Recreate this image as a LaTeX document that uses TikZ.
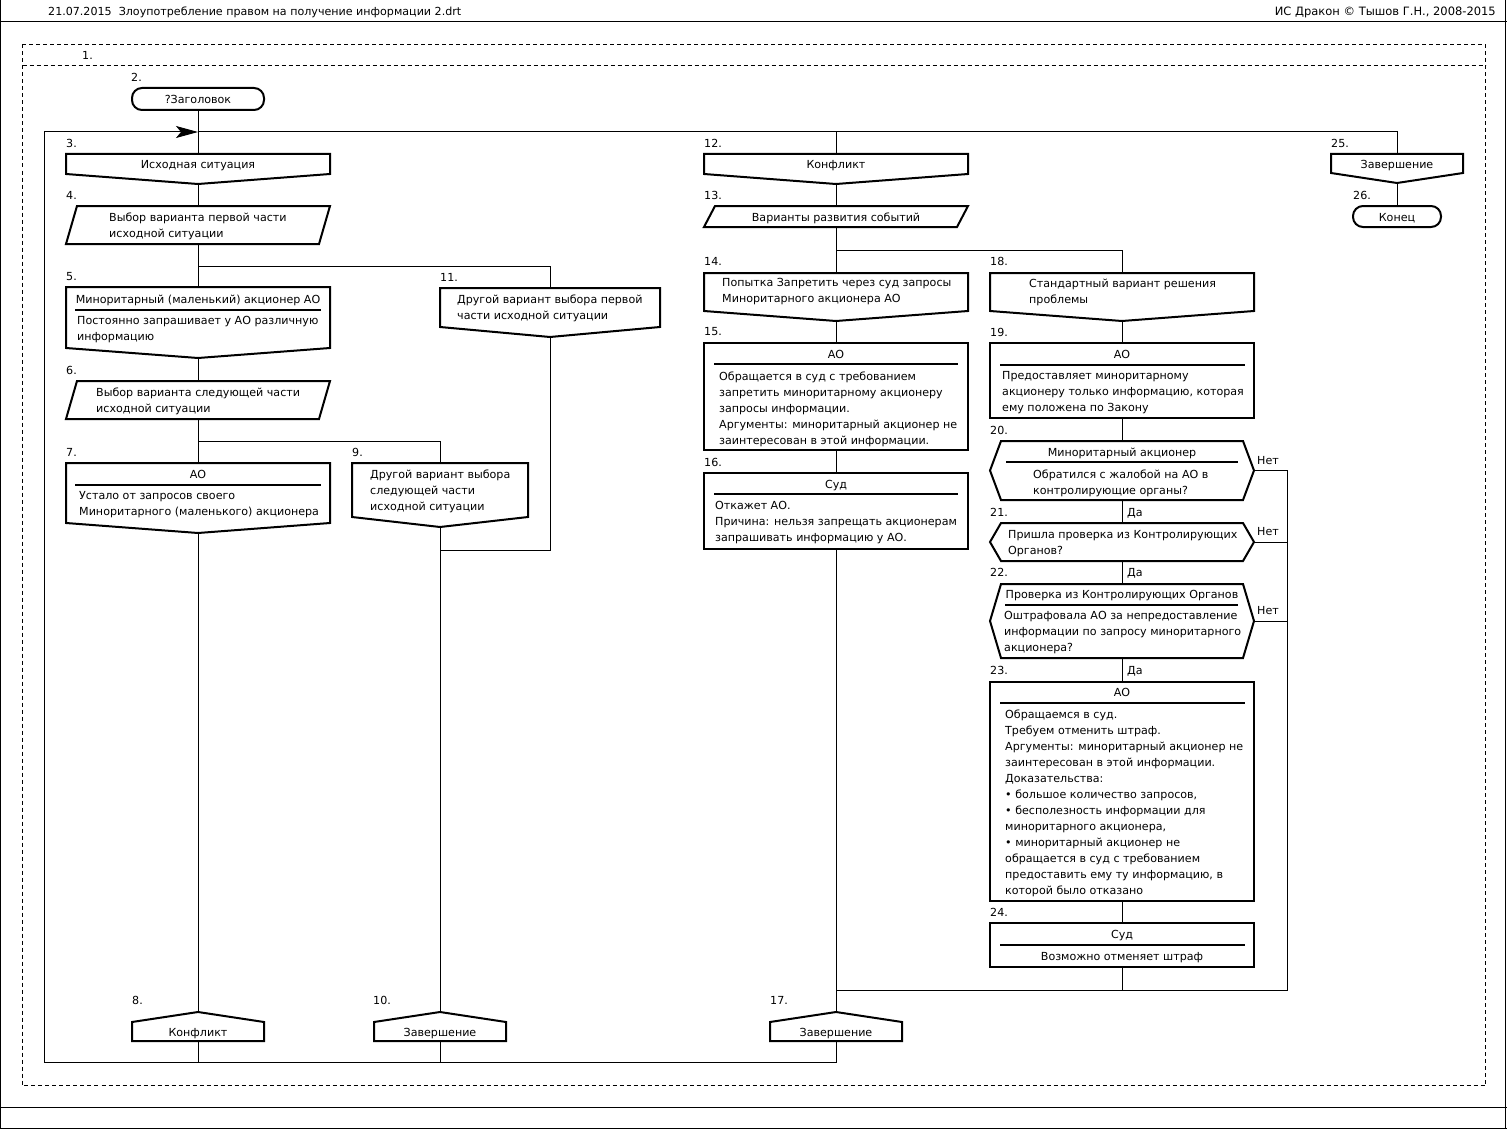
\documentclass[tikz,border=0pt]{standalone}
\usepackage{fontspec}
\setmainfont{DejaVu Sans}
\usetikzlibrary{arrows.meta,calc}
\newcommand{\dfont}{\fontsize{11.1}{16}\selectfont}
% icon outlines
\newcommand{\branchout}[1]{\draw[iconline] (#1.north west) -- (#1.north east) -- (#1.south east) -- ([yshift=-10pt]#1.south) -- (#1.south west) -- cycle;}
\newcommand{\addrout}[1]{\draw[iconline] (#1.south west) -- (#1.south east) -- (#1.north east) -- ([yshift=10pt]#1.north) -- (#1.north west) -- cycle;}
\newcommand{\inputout}[1]{\draw[iconline] ([xshift=11pt]#1.north west) -- (#1.north east) -- ([xshift=-11pt]#1.south east) -- (#1.south west) -- cycle;}
\newcommand{\quesout}[1]{\draw[iconline] (#1.north west) -- (#1.north east) -- ([xshift=11pt]#1.east) -- (#1.south east) -- (#1.south west) -- ([xshift=-11pt]#1.west) -- cycle;}

\begin{document}
\begin{tikzpicture}[x=1pt,y=-1pt,
  every node/.style={font=\dfont},
  iconbox/.style={rectangle, inner sep=0pt, outer sep=0pt, text height=10.5pt, text depth=1.5pt},
  iconline/.style={line width=2pt, line join=miter},
  headrule/.style={line width=2pt},
  conn/.style={line width=1pt},
  txt/.style={anchor=west, align=left, inner sep=0pt, yshift=-1pt},
  one/.style={inner sep=0pt, text height=10.5pt, text depth=1.5pt},
  numlbl/.style={anchor=west, inner sep=0pt},
  frameline/.style={line width=1pt},
  dashframe/.style={line width=1pt, dash pattern=on 4pt off 3pt}
]
\useasboundingbox (0,0) rectangle (1507,1129);
\fill[white] (0,0) rectangle (1507,1129);

% page frame and header
\draw[frameline] (0.5,0) -- (0.5,1129);
\draw[frameline] (1505.5,0) -- (1505.5,1129);
\draw[frameline] (0,22) -- (1507,22);
\draw[frameline] (0,1107) -- (1507,1107);
\draw[frameline] (0,1128) -- (1507,1128);
\node[one, anchor=west] (hdrL) at (48,11) {21.07.2015\ \ Злоупотребление правом на получение информации 2.drt};
\node[one, anchor=east, font=\fontsize{11.5}{16}\selectfont] (hdrR) at (1496,11) {ИС Дракон © Тышов Г.Н., 2008-2015};
\draw[dashframe] (22.5,44.5) rectangle (1485.5,1085.5);
\draw[dashframe] (22.5,66) -- (1485.5,66);

% numbers
\foreach \n/\x/\y in {1/82/55, 2/131/77, 3/66/143, 4/66/195, 5/66/277, 6/66/370, 7/66/452,
  8/132/1000, 9/352/452, 10/373/1000, 11/440/277, 12/704/143, 13/704/195, 14/704/261,
  15/704/332, 16/704/462, 17/770/1000, 18/990/261, 19/990/332, 20/990/430, 21/990/512,
  22/990/572, 23/990/670, 24/990/912, 25/1331/143, 26/1353/195}
  \node[numlbl] (n\n) at (\x,\y) {\n.};

% column 1
\node[iconbox, draw, iconline, rounded corners=10pt, minimum width=132pt, minimum height=22pt] (t2) at (198,99) {?Заголовок};
\node[iconbox, minimum width=264pt, minimum height=20pt] (b3) at (198,164) {Исходная ситуация};
\node[iconbox, minimum width=264pt, minimum height=38pt] (q4) at (198,225) {};
\node[txt] (q4t) at (109,225) {Выбор варианта первой части\\исходной ситуации};
\node[iconbox, minimum width=264pt, minimum height=61pt] (b5) at (198,317.5) {};
\node[one] (b5h) at (198,299) {Миноритарный (маленький) акционер АО};
\node[txt] (b5t) at (77,329) {Постоянно запрашивает у АО различную\\информацию};
\node[iconbox, minimum width=264pt, minimum height=38pt] (q6) at (198,400) {};
\node[txt] (q6t) at (96,400) {Выбор варианта следующей части\\исходной ситуации};
\node[iconbox, minimum width=264pt, minimum height=60pt] (b7) at (198,493) {};
\node[one] (b7h) at (198,474) {АО};
\node[txt] (b7t) at (79,504) {Устало от запросов своего\\Миноритарного (маленького) акционера};
\node[iconbox, minimum width=132pt, minimum height=19pt] (a8) at (198,1031.5) {Конфликт};

% column 2
\node[iconbox, minimum width=176pt, minimum height=54pt] (b9) at (440,490) {};
\node[txt] (b9t) at (370,490) {Другой вариант выбора\\следующей части\\исходной ситуации};
\node[iconbox, minimum width=132pt, minimum height=19pt] (a10) at (440,1031.5) {Завершение};
\node[iconbox, minimum width=220pt, minimum height=39pt] (b11) at (550,307.5) {};
\node[txt] (b11t) at (457,307) {Другой вариант выбора первой\\части исходной ситуации};

% column 3
\node[iconbox, minimum width=264pt, minimum height=20pt] (b12) at (836,164) {Конфликт};
\node[iconbox, minimum width=264pt, minimum height=21pt] (q13) at (836,216.5) {Варианты развития событий};
\node[iconbox, minimum width=264pt, minimum height=38pt] (b14) at (836,292) {};
\node[txt] (b14t) at (722,291) {Попытка Запретить через суд запросы\\Миноритарного акционера АО};
\node[iconbox, draw, iconline, minimum width=264pt, minimum height=107pt] (k15) at (836,396.5) {};
\node[one] (k15h) at (836,354) {АО};
\node[txt] (k15t) at (719,408) {Обращается в суд с требованием\\запретить миноритарному акционеру\\запросы информации.\\Аргументы: миноритарный акционер не\\заинтересован в этой информации.};
\node[iconbox, draw, iconline, minimum width=264pt, minimum height=76pt] (k16) at (836,511) {};
\node[one] (k16h) at (836,484) {Суд};
\node[txt] (k16t) at (715,522) {Откажет АО.\\Причина: нельзя запрещать акционерам\\запрашивать информацию у АО.};
\node[iconbox, minimum width=132pt, minimum height=19pt] (a17) at (836,1031.5) {Завершение};

% column 4
\node[iconbox, minimum width=264pt, minimum height=38pt] (b18) at (1122,292) {};
\node[txt] (b18t) at (1029,291) {Стандартный вариант решения\\проблемы};
\node[iconbox, draw, iconline, minimum width=264pt, minimum height=75pt] (k19) at (1122,380.5) {};
\node[one] (k19h) at (1122,354) {АО};
\node[txt] (k19t) at (1002,392) {Предоставляет миноритарному\\акционеру только информацию, которая\\ему положена по Закону};
\node[iconbox, minimum width=242pt, minimum height=59pt] (h20) at (1122,470.5) {};
\node[one] (h20h) at (1122,452) {Миноритарный акционер};
\node[txt] (h20t) at (1033,482) {Обратился с жалобой на АО в\\контролирующие органы?};
\node[iconbox, minimum width=242pt, minimum height=38pt] (h21) at (1122,542) {};
\node[txt] (h21t) at (1008,543) {Пришла проверка из Контролирующих\\Органов?};
\node[iconbox, minimum width=242pt, minimum height=74pt] (h22) at (1122,621) {};
\node[one] (h22h) at (1122,594) {Проверка из Контролирующих Органов};
\node[txt] (h22t) at (1004,632) {Оштрафовала АО за непредоставление\\информации по запросу миноритарного\\акционера?};
\node[iconbox, draw, iconline, minimum width=264pt, minimum height=219pt] (k23) at (1122,791.5) {};
\node[one] (k23h) at (1122,692) {АО};
\node[txt] (k23t) at (1005,802) {Обращаемся в суд.\\Требуем отменить штраф.\\Аргументы: миноритарный акционер не\\заинтересован в этой информации.\\Доказательства:\\• большое количество запросов,\\• бесполезность информации для\\миноритарного акционера,\\• миноритарный акционер не\\обращается в суд с требованием\\предоставить ему ту информацию, в\\которой было отказано};
\node[iconbox, draw, iconline, minimum width=264pt, minimum height=44pt] (k24) at (1122,945) {};
\node[one] (k24h) at (1122,934) {Суд};
\node[one] (k24t) at (1122,956) {Возможно отменяет штраф};

% column 5
\node[iconbox, minimum width=132pt, minimum height=19pt] (b25) at (1397,163.5) {Завершение};
\node[iconbox, draw, iconline, rounded corners=10pt, minimum width=88pt, minimum height=21pt] (t26) at (1397,216.5) {Конец};

% outlines
\branchout{b3} \inputout{q4} \branchout{b5} \inputout{q6} \branchout{b7} \addrout{a8}
\branchout{b9} \addrout{a10} \branchout{b11}
\branchout{b12} \inputout{q13} \branchout{b14} \addrout{a17}
\branchout{b18} \quesout{h20} \quesout{h21} \quesout{h22}
\branchout{b25}

% header rules
\draw[headrule] (75,310) -- (321,310);
\draw[headrule] (75,485) -- (321,485);
\draw[headrule] (714,364) -- (958,364);
\draw[headrule] (714,494) -- (958,494);
\draw[headrule] (1000,365) -- (1245,365);
\draw[headrule] (1006,462) -- (1238,462);
\draw[headrule] (1005,605) -- (1238,605);
\draw[headrule] (1000,703) -- (1245,703);
\draw[headrule] (1000,945) -- (1245,945);

% yes / no
\node[txt] (y20) at (1127,512) {Да};
\node[txt] (y21) at (1127,572) {Да};
\node[txt] (y22) at (1127,670) {Да};
\node[txt] (x20) at (1257,460) {Нет};
\node[txt] (x21) at (1257,531) {Нет};
\node[txt] (x22) at (1257,610) {Нет};

% junctions
\coordinate (j2) at (198,132);
\coordinate (lpTL) at (44,132);
\coordinate (lpBL) at (44,1062);
\coordinate (lpBR) at (836,1062);
\coordinate (j4) at (198,266);
\coordinate (j6) at (198,441);
\coordinate (m11) at (440,550);
\coordinate (j13) at (836,250);
\coordinate (m24) at (1122,990);
\coordinate (mR) at (1287,990);
\coordinate (mL) at (836,990);

% connectors
\draw[conn] (t2.south) -- (j2);
\draw[conn] (j2) -- (b3.north);
\draw[conn] ([yshift=-10pt]b3.south) -- (q4.north);
\draw[conn] (q4.south) -- (b5.north);
\draw[conn] (j4) -| (b11.north);
\draw[conn] ([yshift=-10pt]b5.south) -- (q6.north);
\draw[conn] (q6.south) -- (b7.north);
\draw[conn] (j6) -| (b9.north);
\draw[conn] ([yshift=-10pt]b7.south) -- ([yshift=10pt]a8.north);
\draw[conn] (a8.south) -- (a8.south |- lpBL);
\draw[conn] ([yshift=-10pt]b11.south) |- (m11);
\draw[conn] ([yshift=-10pt]b9.south) -- ([yshift=10pt]a10.north);
\draw[conn] (a10.south) -- (a10.south |- lpBL);
\draw[conn] (a17.south) -- (lpBR) -- (lpBL) -- (lpTL);
\draw[conn, -{Stealth[length=22pt, width=12pt, inset=5pt]}] (lpTL) -- (j2);
\draw[conn] (j2) -| (b25.north);
\draw[conn] (j2 -| b12.north) -- (b12.north);
\draw[conn] ([yshift=-10pt]b12.south) -- (q13.north);
\draw[conn] (q13.south) -- (b14.north);
\draw[conn] (j13) -| (b18.north);
\draw[conn] ([yshift=-10pt]b14.south) -- (k15.north);
\draw[conn] (k15.south) -- (k16.north);
\draw[conn] (k16.south) -- ([yshift=10pt]a17.north);
\draw[conn] ([yshift=-10pt]b18.south) -- (k19.north);
\draw[conn] (k19.south) -- (h20.north);
\draw[conn] (h20.south) -- (h21.north);
\draw[conn] (h21.south) -- (h22.north);
\draw[conn] (h22.south) -- (k23.north);
\draw[conn] (k23.south) -- (k24.north);
\draw[conn] (k24.south) -- (m24);
\draw[conn] ([xshift=11pt]h20.east) -| (mR) -- (mL);
\draw[conn] ([xshift=11pt]h21.east) -- (h21.east -| mR);
\draw[conn] ([xshift=11pt]h22.east) -- (h22.east -| mR);
\draw[conn] ([yshift=-10pt]b25.south) -- (t26.north);
\end{tikzpicture}
\end{document}
